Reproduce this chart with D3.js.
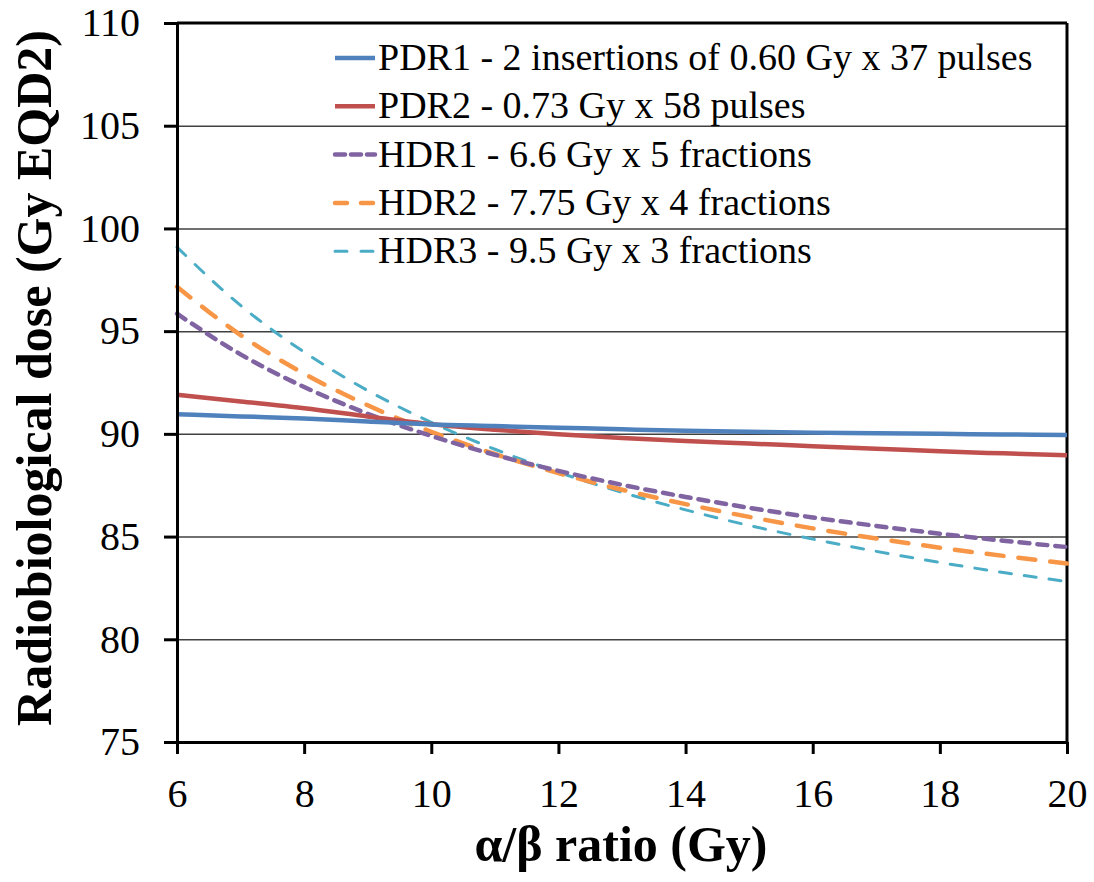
<!DOCTYPE html>
<html>
<head>
<meta charset="utf-8">
<script src="https://cdn.jsdelivr.net/npm/d3@7"></script>
<style>
  body { margin: 0; background: #fff; }
  svg { display: block; }
  svg text { font-family: "Liberation Serif", "DejaVu Serif", serif; fill: #000; }
  .grid line { stroke: #404040; stroke-width: 1.5; }
  .grid path { display: none; }
  .axis path, .axis line { stroke: #000; stroke-width: 3; }
  .axis text { font-size: 40px; }
</style>
</head>
<body>
<div id="chart"></div>
<script>
// alpha/beta ratio (Gy)
var ratios = [6, 7, 8, 9, 10, 11, 12, 13, 14, 15, 16, 17, 18, 19, 20];

// Gy EQD2
var pdr1 = [90.96, 90.85, 90.75, 90.6, 90.46, 90.38, 90.3, 90.22, 90.15, 90.1, 90.06, 90.03, 90.0, 89.97, 89.94];
var pdr2 = [91.9, 91.58, 91.25, 90.85, 90.47, 90.2, 89.98, 89.8, 89.65, 89.53, 89.4, 89.28, 89.15, 89.05, 88.96];
var hdr1 = [95.85, 93.87, 92.28, 90.98, 89.9, 88.98, 88.2, 87.52, 86.93, 86.4, 85.93, 85.52, 85.14, 84.8, 84.49];
var hdr2 = [97.16, 94.81, 92.93, 91.39, 90.1, 89.02, 88.09, 87.28, 86.58, 85.96, 85.4, 84.91, 84.46, 84.06, 83.69];
var hdr3 = [99.09, 96.25, 93.98, 92.11, 90.56, 89.25, 88.13, 87.15, 86.3, 85.54, 84.88, 84.28, 83.74, 83.25, 82.81];

var seriesNames = [
  "PDR1 - 2 insertions of 0.60 Gy x 37 pulses",
  "PDR2 - 0.73 Gy x 58 pulses",
  "HDR1 - 6.6 Gy x 5 fractions",
  "HDR2 - 7.75 Gy x 4 fractions",
  "HDR3 - 9.5 Gy x 3 fractions"
];

var xTicks = [6, 8, 10, 12, 14, 16, 18, 20];
var yTicks = [75, 80, 85, 90, 95, 100, 105, 110];

var styles = [
  {color: "#4F81BD", width: 4.5, dash: null,    legendDash: null},
  {color: "#C0504D", width: 4.5, dash: null,    legendDash: null},
  {color: "#8064A2", width: 4.5, dash: "10,8",  legendDash: "10,6"},
  {color: "#F79646", width: 4.5, dash: "17,15", legendDash: "12,14"},
  {color: "#4BACC6", width: 3,   dash: "12,13", legendDash: "12,14"}
];

var margin = {top: 23, right: 27, bottom: 140, left: 177};
var W = 1094, H = 882;
var width = W - margin.left - margin.right;
var height = H - margin.top - margin.bottom;
var serif = "Liberation Serif";

var x = d3.scaleLinear().domain([6, 20]).range([0, width]);
var y = d3.scaleLinear().domain([75, 110]).range([height, 0]);

var svg = d3.select("#chart").append("svg").attr("width", W).attr("height", H);
var g = svg.append("g").attr("transform", "translate(" + margin.left + "," + margin.top + ")");

// horizontal grid
g.append("g").attr("class", "grid")
  .call(d3.axisLeft(y).tickValues(yTicks.slice(1, -1)).tickSize(-width).tickFormat(""));

// frame top / right
g.append("line").attr("x1", 0).attr("x2", width).attr("y1", 0).attr("y2", 0)
  .attr("stroke", "#000").attr("stroke-width", 3);
g.append("line").attr("x1", width).attr("x2", width).attr("y1", 0).attr("y2", height)
  .attr("stroke", "#000").attr("stroke-width", 3);

var line = d3.line().curve(d3.curveMonotoneX);
var all = [pdr1, pdr2, hdr1, hdr2, hdr3];

// draw in reverse so PDR lines stay on top like the original
[4, 3, 2, 1, 0].forEach(function(i) {
  var pts = ratios.map(function(r, j) { return [x(r), y(all[i][j])]; });
  g.append("path").attr("d", line(pts))
    .attr("fill", "none")
    .attr("stroke", styles[i].color)
    .attr("stroke-width", styles[i].width)
    .attr("stroke-dasharray", styles[i].dash)
    .attr("stroke-linecap", styles[i].dash ? "round" : "butt");
});

// axes
var ay = g.append("g").attr("class", "axis")
  .call(d3.axisLeft(y).tickValues(yTicks).tickSizeInner(13).tickSizeOuter(0).tickPadding(24));
var ax = g.append("g").attr("class", "axis").attr("transform", "translate(0," + height + ")")
  .call(d3.axisBottom(x).tickValues(xTicks).tickSizeInner(12).tickSizeOuter(0).tickPadding(25));
ay.attr("font-family", serif).attr("font-size", 40);
ax.attr("font-family", serif).attr("font-size", 40);

// legend
var legend = g.append("g").attr("transform", "translate(158,35)")
  .attr("font-family", serif);
seriesNames.forEach(function(name, i) {
  var row = legend.append("g").attr("transform", "translate(0," + (i * 48.3) + ")");
  row.append("line").attr("x1", 0).attr("x2", 40).attr("y1", 0).attr("y2", 0)
    .attr("stroke", styles[i].color)
    .attr("stroke-width", styles[i].width)
    .attr("stroke-dasharray", styles[i].legendDash)
    .attr("stroke-linecap", styles[i].legendDash ? "round" : "butt");
  row.append("text").attr("x", 43).attr("y", 12)
    .attr("font-family", serif)
    .style("font-size", "38px").text(name);
});

// axis titles
svg.append("text")
  .attr("x", 621)
  .attr("y", 861)
  .attr("text-anchor", "middle")
  .attr("font-family", serif)
  .style("font-size", "50px").style("font-weight", "bold")
  .text("\u03b1/\u03b2 ratio (Gy)");

svg.append("text")
  .attr("transform", "rotate(-90)")
  .attr("x", -378)
  .attr("y", 51)
  .attr("text-anchor", "middle")
  .attr("font-family", serif)
  .style("font-size", "50px").style("font-weight", "bold")
  .text("Radiobiological dose (Gy EQD2)");
</script>
</body>
</html>
